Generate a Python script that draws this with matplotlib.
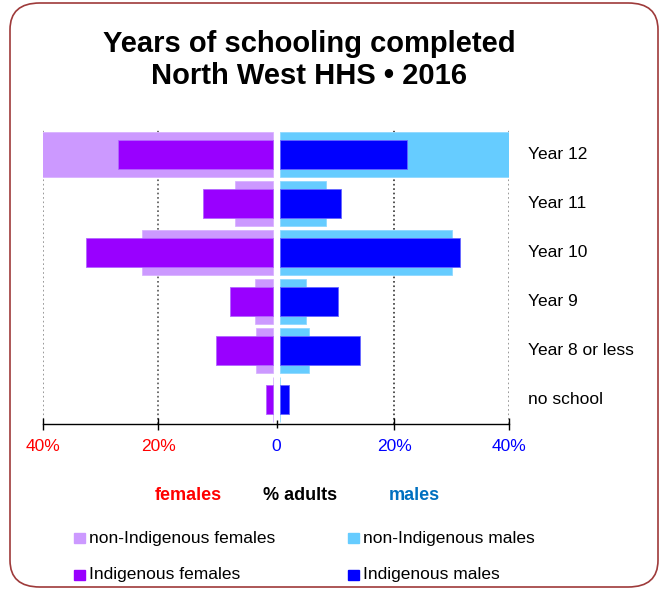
import numpy as np
import matplotlib.pyplot as plt
from matplotlib.patches import FancyBboxPatch

plt.rcParams['font.family'] = ['Liberation Sans', 'DejaVu Sans']

# data (% adults)
categories = ['Year 12', 'Year 11', 'Year 10', 'Year 9', 'Year 8 or less', 'no school']
nonind_females = [41.5, 6.6, 22.7, 3.1, 3.0, 0.0]
ind_females = [27.0, 12.1, 32.6, 7.5, 9.9, 1.2]
nonind_males = [41.5, 8.1, 30.1, 4.5, 5.0, 0.0]
ind_males = [22.2, 10.6, 31.5, 10.1, 13.9, 1.6]

tick_vals = [20, 40]
tick_labels = ['20%', '40%']

c_nf = '#CC99FF'
c_if = '#9900FF'
c_nm = '#66CCFF'
c_im = '#0000FF'

W, H = 663, 591
fig = plt.figure(figsize=(W / 100, H / 100), dpi=100)

# rounded frame
frame = FancyBboxPatch((10 / W, 4 / H), 648 / W, 584 / H,
                       boxstyle='round,pad=0,rounding_size=0.045',
                       transform=fig.transFigure, fill=False,
                       edgecolor='#9E3A3A', lw=1.2)
fig.add_artist(frame)

fig.text(309 / W, 1 - 60 / H, 'Years of schooling completed\nNorth West HHS \u2022 2016',
         ha='center', va='center', fontsize=21, fontweight='bold', linespacing=1.22)

# half-gap between the two panels, in % units
gap = 0.6
bottom = (H - 424) / H
height = 294 / H
axl = fig.add_axes([43 / W, bottom, 233.5 / W, height])
axr = fig.add_axes([276.5 / W, bottom, 232.5 / W, height])

y = np.arange(len(categories))

axl.barh(y, nonind_females, height=0.91, color=c_nf, edgecolor='#D9B3FF', lw=0.6, zorder=2)
axl.barh(y, ind_females, height=0.58, color=c_if, edgecolor='#B266FF', lw=0.6, zorder=3)
axr.barh(y, nonind_males, height=0.91, color=c_nm, edgecolor='#8FD9FF', lw=0.6, zorder=2)
axr.barh(y, ind_males, height=0.58, color=c_im, edgecolor='#6666FF', lw=0.6, zorder=3)

axl.set_xlim(40, -gap)
axr.set_xlim(-gap, 40)

for ax in (axl, axr):
    ax.set_ylim(len(categories) - 0.5, -0.5)
    ax.set_yticks([])
    for s in ('top', 'left', 'right'):
        ax.spines[s].set_visible(False)
    ax.spines['bottom'].set_linewidth(1.0)
    ax.tick_params(axis='x', direction='inout', length=9, width=1, labelsize=12.5, pad=6)

# dotted gridlines
for v in (20, 40):
    axl.axvline(v, color='#555555' if v == 20 else '#888888', ls=':', lw=1.2, zorder=1)
    axr.axvline(v, color='#333333' if v == 20 else '#888888', ls=':', lw=1.2, zorder=1)

axl.set_xticks(tick_vals)
axl.set_xticklabels(tick_labels, color='#FF0000')
axr.set_xticks([-gap] + tick_vals)
axr.set_xticklabels(['0'] + tick_labels, color='#0000FF')
zt = axr.xaxis.get_major_ticks()[0]
zt.tick1line.set_color('#999999')
zt.tick1line.set_markersize(6)

for i, c in enumerate(categories):
    axr.text(1.08, i, c, transform=axr.get_yaxis_transform(), ha='left', va='center', fontsize=12.5)

fig.text(188 / W, 1 - 495 / H, 'females', color='#FF0000', fontsize=13, fontweight='bold', ha='center', va='center')
fig.text(300 / W, 1 - 495 / H, '% adults', color='black', fontsize=13, fontweight='bold', ha='center', va='center')
fig.text(414 / W, 1 - 495 / H, 'males', color='#0070C0', fontsize=13, fontweight='bold', ha='center', va='center')

# legend
leg_items = [('non-Indigenous females', c_nf, 74, 538),
             ('Indigenous females', c_if, 74, 575),
             ('non-Indigenous males', c_nm, 348, 538),
             ('Indigenous males', c_im, 348, 575)]
for label, col, lx, ly in leg_items:
    fig.add_artist(plt.Rectangle((lx / W, 1 - (ly + 5) / H), 11 / W, 10 / H,
                                 transform=fig.transFigure, color=col))
    fig.text((lx + 15) / W, 1 - ly / H, label, fontsize=12.5, ha='left', va='center')

fig.savefig('out.png', dpi=100)
